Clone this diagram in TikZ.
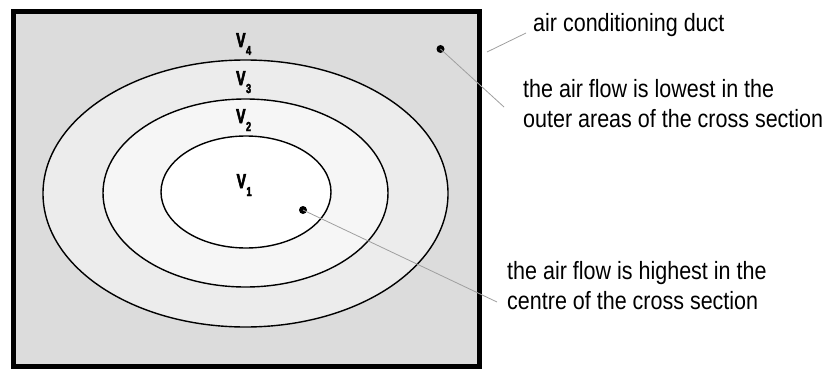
\documentclass[tikz,border=0pt]{standalone}
\usepackage{fontspec}
\setmainfont{Liberation Sans}
\newfontfamily\txtfont[FakeStretch=0.86]{Liberation Sans}
\newfontfamily\vfont[FakeStretch=0.7,FakeBold=3]{Liberation Sans}
\newcommand{\vlab}[1]{V\kern0.5pt\raisebox{-8pt}{\fontsize{13}{13}\selectfont #1}}
\definecolor{ductgray}{HTML}{DCDCDC}
\definecolor{ringthree}{HTML}{ECECEC}
\definecolor{ringtwo}{HTML}{F6F6F6}
\tikzset{
  vlabel/.style={anchor=base west, inner sep=0pt, font=\vfont\fontsize{20}{20}\selectfont},
  note/.style={anchor=base west, inner sep=0pt, align=left, font=\txtfont\fontsize{25}{30}\selectfont},
  dotmark/.style={circle, fill=black, inner sep=0pt, minimum size=8pt},
  leader/.style={draw=gray!75, line width=0.8pt},
  ring/.style={draw=black, line width=1.4pt}
}
\begin{document}
\begin{tikzpicture}[x=1pt,y=-1pt]
\useasboundingbox (0,0) rectangle (826,369);
% duct
\draw[line width=5pt, fill=ductgray] (13,12) rectangle (479,366);
\node[coordinate] (ductedge) at (487,52) {};
% ellipses
\draw[ring, fill=ringthree] (245.5,193.5) ellipse [x radius=202.5, y radius=133.5];
\draw[ring, fill=ringtwo] (245.5,193) ellipse [x radius=142.5, y radius=94];
\draw[ring, fill=white] (246,192) ellipse [x radius=85, y radius=56];
% labels
\node[vlabel] (v4) at (236,47) {\bfseries\vlab{4}};
\node[vlabel] (v3) at (236,85) {\bfseries\vlab{3}};
\node[vlabel] (v2) at (236,123) {\bfseries\vlab{2}};
\node[vlabel] (v1) at (236.5,188) {\bfseries\vlab{1}};
% dots
\node[dotmark] (outerdot) at (440.5,49) {};
\node[dotmark] (innerdot) at (303,210) {};
% texts
\node[note] (duct) at (533,32) {air conditioning duct};
\node[note] (lowest) at (523,127) {the air flow is lowest in the\\outer areas of the cross section};
\node[note] (highest) at (507,309) {the air flow is highest in the\\centre of the cross section};
% leader ends
\coordinate (ductend) at (526,33);
\coordinate (lowend) at (504,107);
\coordinate (highend) at (497,302);
\draw[leader] (ductedge) -- (ductend);
\draw[leader] (outerdot.center) -- (lowend);
\draw[leader] (innerdot.center) -- (highend);
\end{tikzpicture}
\end{document}
